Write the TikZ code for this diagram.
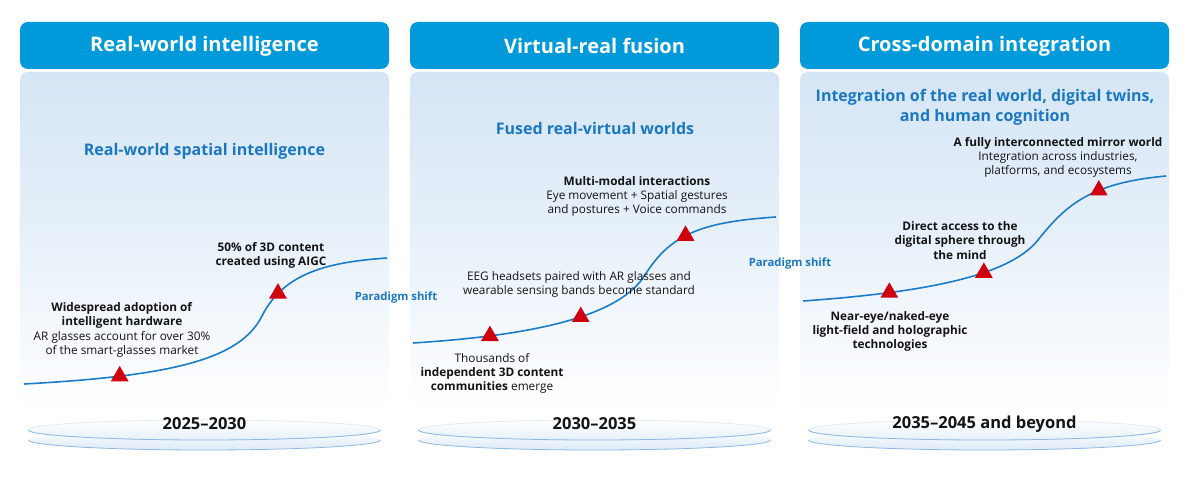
\documentclass[tikz,border=0pt]{standalone}
\usepackage{fontspec}
\setsansfont{Open Sans}
\usetikzlibrary{shapes.geometric,positioning}

\tikzset{%
  headtext/.style={text=white,font=\sffamily\bfseries\fontsize{20}{24}\selectfont},
  theme/.style={align=center,text=vmtheme,font=\sffamily\bfseries\fontsize{16}{20}\selectfont},
  note/.style={align=center,text=black!92,font=\sffamily\fontsize{11.8}{14.4}\selectfont},
  yeartext/.style={text=black!92,font=\sffamily\bfseries\fontsize{16.5}{20}\selectfont},
  shiftlabel/.style={text=vmtheme,font=\sffamily\bfseries\fontsize{11.3}{14}\selectfont},
  trend/.style={draw=vmcurve,line width=1.6pt},
  milestone/.style={regular polygon,regular polygon sides=3,fill=vmred,inner sep=0pt,minimum size=20.5pt}
}

\begin{document}
\begin{tikzpicture}[x=1pt,y=-1pt]
% ---- colors ----
\definecolor{vmhead}{HTML}{0099DA}     % header bar
\definecolor{vmbody}{HTML}{D5E5F5}     % panel body top
\definecolor{vmtheme}{HTML}{1A78C2}    % blue themes
\definecolor{vmcurve}{HTML}{1B7CC8}    % trend curve
\definecolor{vmred}{HTML}{D0000E}      % milestones
\definecolor{vmplate}{HTML}{DCEAF7}    % platform fill
\definecolor{vmrim}{HTML}{8DB9E4}      % platform rim

% geometry
\def\panelW{369}  % panel width
\def\ax{20}       % left of stage 1
\def\bx{410}      % left of stage 2
\def\cx{800}      % left of stage 3

\useasboundingbox (0,0) rectangle (1194,494);
\fill[white] (0,0) rectangle (1194,494);

% ===================== stage frame macro =====================
% #1 left x, #2 name, #3 title, #4 years
\newcommand{\stageframe}[4]{
  \fill[vmhead,rounded corners=8pt] (#1,22) rectangle (#1+\panelW,69);
  \node[headtext] (#2-head) at (#1+\panelW/2,46) {#3};
  \shade[top color=vmbody,bottom color=white,middle color=vmbody!55,rounded corners=8pt]
    (#1,72) rectangle (#1+\panelW,412);
  % platform discs
  \shade[top color=white,bottom color=vmplate] (#1+\panelW/2,440) ellipse [x radius=176,y radius=10];
  \draw[vmrim,line width=0.8pt] (#1+\panelW/2+176,440) arc [start angle=0,end angle=180,x radius=176,y radius=10];
  \shade[top color=white,bottom color=vmplate!70] (#1+\panelW/2,430) ellipse [x radius=176,y radius=10];
  \draw[vmrim!35,line width=0.6pt] (#1+\panelW/2,430) ellipse [x radius=176,y radius=10];
  \draw[vmrim,line width=0.8pt] (#1+\panelW/2+176,430) arc [start angle=0,end angle=180,x radius=176,y radius=10];
  \node[yeartext] (#2-year) at (#1+\panelW/2,424) {#4};
}

\stageframe{\ax}{real}{Real-world intelligence}{2025--2030}
\stageframe{\bx}{fusion}{Virtual-real fusion}{2030--2035}
\stageframe{\cx}{cross}{Cross-domain integration}{2035--2045 and beyond}

% ---- themes ----
\node[theme] (real-theme)   at (204.5,151) {Real-world spatial intelligence};
\node[theme] (fusion-theme) at (595,129)   {Fused real-virtual worlds};
\node[theme] (cross-theme)  at (985,107)   {Integration of the real world, digital twins,\\and human cognition};

% ====== stage 1 curve ======
\draw[trend] (24,384) .. controls (170,376) and (240,360) .. (262,316)
  node[milestone,pos=0.25] (m11) {}
  .. controls (284,272) and (330,262) .. (387,258)
  node[milestone,pos=0.2] (m12) {};
\node[note] (n11) at (122,330) {\textbf{Widespread adoption of}\\\textbf{intelligent hardware}\\AR glasses account for over 30\%\\of the smart-glasses market};
\node[note] (n12) at (271,255.5) {\textbf{50\% of 3D content}\\\textbf{created using AIGC}};

% ====== stage 2 curve ======
\draw[trend] (413,343) .. controls (540,335) and (620,315) .. (645,275)
  node[milestone,pos=0.22] (m21) {}
  node[milestone,pos=0.56] (m22) {}
  .. controls (670,235) and (700,222) .. (776,217)
  node[milestone,pos=0.45] (m23) {};
\node[note] (n21) at (492,373.5) {Thousands of\\\textbf{independent 3D content}\\\textbf{communities} emerge};
\node[note] (n22) at (579,284.5) {EEG headsets paired with AR glasses and\\wearable sensing bands become standard};
\node[note] (n23) at (637,196.5) {\textbf{Multi-modal interactions}\\Eye movement + Spatial gestures\\and postures + Voice commands};

% ====== stage 3 curve ======
\draw[trend] (803,301) .. controls (930,292) and (1010,275) .. (1038,240)
  node[milestone,pos=0.25] (m31) {}
  node[milestone,pos=0.62] (m32) {}
  .. controls (1066,205) and (1090,183) .. (1166,176)
  node[milestone,pos=0.62] (m33) {};
\node[note] (n31) at (890,331.5) {\textbf{Near-eye/naked-eye}\\\textbf{light-field and holographic}\\\textbf{technologies}};
\node[note] (n32) at (960,240.5) {\textbf{Direct access to the}\\\textbf{digital sphere through}\\\textbf{the mind}};
\node[note] (n33) at (1058,157.5) {\textbf{A fully interconnected mirror world}\\Integration across industries,\\platforms, and ecosystems};

% ---- paradigm shifts ----
\node[shiftlabel] (shift1) at (396,298) {Paradigm shift};
\node[shiftlabel] (shift2) at (790,264) {Paradigm shift};

\end{tikzpicture}
\end{document}
